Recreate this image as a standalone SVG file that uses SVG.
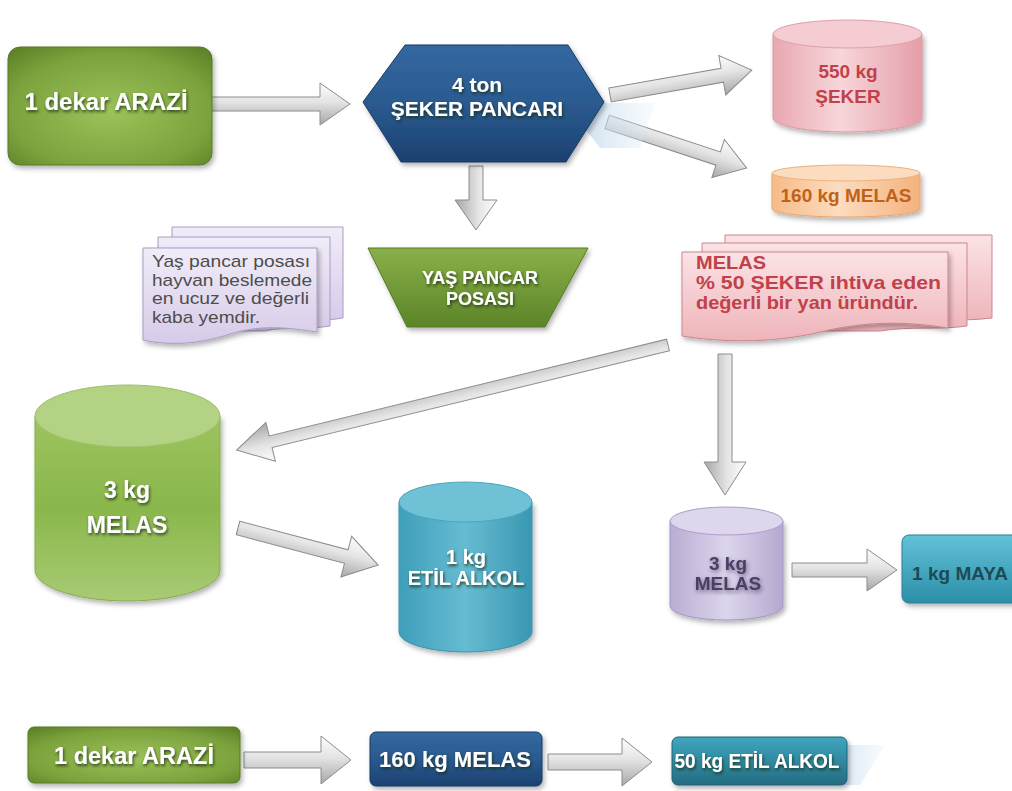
<svg xmlns="http://www.w3.org/2000/svg" width="1012" height="791" viewBox="0 0 1012 791">
<defs>
<style>
.t{font-family:"Liberation Sans",Arial,sans-serif;font-weight:bold;text-anchor:middle}
.w{fill:#ffffff;filter:url(#tsh)}
.arr{fill:url(#ag);stroke:#8c8c8c;stroke-width:1}
.note{font-family:"Liberation Sans",Arial,sans-serif;font-size:17px;fill:#4d4d4d}
.rnote{font-family:"Liberation Sans",Arial,sans-serif;font-size:19px;font-weight:bold;fill:#c1414b}
</style>
<filter id="tsh" x="-20%" y="-40%" width="140%" height="180%">
<feDropShadow dx="1" dy="2" stdDeviation="1.6" flood-color="#1a2a10" flood-opacity="0.8"/>
</filter>
<filter id="tsd" x="-20%" y="-40%" width="140%" height="180%">
<feDropShadow dx="1" dy="2" stdDeviation="2" flood-color="#2a2040" flood-opacity="0.6"/>
</filter>
<filter id="sh" x="-10%" y="-10%" width="125%" height="130%">
<feDropShadow dx="2" dy="3" stdDeviation="2.5" flood-color="#000" flood-opacity="0.3"/>
</filter>
<linearGradient id="ag" x1="0" y1="0" x2="0" y2="1">
<stop offset="0" stop-color="#fdfdfd"/><stop offset="0.45" stop-color="#e4e4e4"/><stop offset="1" stop-color="#a6a6a6"/>
</linearGradient>
<radialGradient id="gG" cx="0.5" cy="0.55" r="0.7">
<stop offset="0" stop-color="#9cc25a"/><stop offset="0.7" stop-color="#7ba23c"/><stop offset="1" stop-color="#5d8328"/>
</radialGradient>
<linearGradient id="bH" x1="0" y1="0" x2="0" y2="1">
<stop offset="0" stop-color="#3468a0"/><stop offset="0.5" stop-color="#2a5a90"/><stop offset="1" stop-color="#1c4170"/>
</linearGradient>
<linearGradient id="gT" x1="0" y1="0" x2="0" y2="1">
<stop offset="0" stop-color="#8ab04a"/><stop offset="1" stop-color="#5c8428"/>
</linearGradient>
<linearGradient id="rC" x1="0" y1="0" x2="1" y2="0">
<stop offset="0" stop-color="#e9a7b0"/><stop offset="0.45" stop-color="#f7d6da"/><stop offset="1" stop-color="#e59ea8"/>
</linearGradient>
<linearGradient id="oC" x1="0" y1="0" x2="1" y2="0">
<stop offset="0" stop-color="#f6bb88"/><stop offset="0.45" stop-color="#fddcbf"/><stop offset="1" stop-color="#f3b27c"/>
</linearGradient>
<linearGradient id="gC" x1="0" y1="0" x2="0" y2="1">
<stop offset="0" stop-color="#9dc45f"/><stop offset="0.5" stop-color="#8ab74c"/><stop offset="1" stop-color="#a8cb74"/>
</linearGradient>
<linearGradient id="cC" x1="0" y1="0" x2="1" y2="0">
<stop offset="0" stop-color="#3f9fba"/><stop offset="0.5" stop-color="#66bcd2"/><stop offset="1" stop-color="#3a97b2"/>
</linearGradient>
<linearGradient id="lC" x1="0" y1="0" x2="1" y2="0">
<stop offset="0" stop-color="#b9add3"/><stop offset="0.5" stop-color="#dcd5ec"/><stop offset="1" stop-color="#b5a8cf"/>
</linearGradient>
<linearGradient id="lN" x1="0" y1="0" x2="0" y2="1">
<stop offset="0" stop-color="#f1ecf8"/><stop offset="1" stop-color="#d6cbe8"/>
</linearGradient>
<linearGradient id="rN" x1="0" y1="0" x2="0" y2="1">
<stop offset="0" stop-color="#fbe3e5"/><stop offset="1" stop-color="#eeb4ba"/>
</linearGradient>
<linearGradient id="tB" x1="0" y1="0" x2="0" y2="1">
<stop offset="0" stop-color="#62c2d8"/><stop offset="1" stop-color="#2b8ea8"/>
</linearGradient>
<linearGradient id="tB2" x1="0" y1="0" x2="0" y2="1">
<stop offset="0" stop-color="#3fa6be"/><stop offset="1" stop-color="#236c82"/>
</linearGradient>
<linearGradient id="shB" x1="0" y1="0" x2="1" y2="0">
<stop offset="0" stop-color="#b9d3ea" stop-opacity="0.9"/><stop offset="1" stop-color="#dceaf5" stop-opacity="0.2"/>
</linearGradient>
</defs>
<rect width="1012" height="791" fill="#ffffff"/>

<g id="connectors">
<polygon class="arr" transform="translate(210,104)" points="0,-7 110,-7 110,-21 140,0 110,21 110,7 0,7"/>
<polygon class="arr" transform="translate(610,95) rotate(-9.98)" points="0,-7 114,-7 114,-20 144,0 114,20 114,7 0,7"/>
<polygon class="arr" transform="translate(607,122) rotate(18.19)" points="0,-7 117,-7 117,-20 147,0 117,20 117,7 0,7"/>
<polygon class="arr" transform="translate(476,166) rotate(90)" points="0,-7 34,-7 34,-21 64,0 34,21 34,7 0,7"/>
<polygon class="arr" transform="translate(668,345) rotate(166.31)" points="0,-6 409,-6 409,-20 444,0 409,20 409,6 0,6"/>
<polygon class="arr" transform="translate(725,354) rotate(90)" points="0,-7 108,-7 108,-21 141,0 108,21 108,7 0,7"/>
<polygon class="arr" transform="translate(238,528) rotate(14.8)" points="0,-7 112,-7 112,-21 145,0 112,21 112,7 0,7"/>
<polygon class="arr" transform="translate(792,570)" points="0,-7 75,-7 75,-21 105,0 75,21 75,7 0,7"/>
<polygon class="arr" transform="translate(244,760)" points="0,-8 77,-8 77,-24 107,0 77,24 77,8 0,8"/>
<polygon class="arr" transform="translate(548,762)" points="0,-8 74,-8 74,-24 104,0 74,24 74,8 0,8"/>
</g>

<g id="arazi">
<rect x="8" y="47" width="204" height="118" rx="12" fill="url(#gG)" stroke="#587a25" filter="url(#sh)"/>
<text class="t w" x="106" y="110" font-size="24">1 dekar ARAZİ</text>
</g>

<g id="pancar">
<polygon points="565,103 655,103 640,148 600,148" fill="url(#shB)"/>
<polygon points="363,102 405,45 568,45 604,102 566,162 401,162" fill="url(#bH)" stroke="#173a63" filter="url(#sh)"/>
<text class="t w" x="477" y="92" font-size="21">4 ton</text>
<text class="t w" x="477" y="116" font-size="21">ŞEKER PANCARI</text>
</g>

<g id="seker">
<path d="M773,34 V118 A74.5,14 0 0 0 922,118 V34 Z" fill="url(#rC)" stroke="#d99aa3" filter="url(#sh)"/>
<ellipse cx="847.5" cy="34" rx="74.5" ry="14" fill="#f4ccd1" stroke="#dca2aa"/>
<text class="t" x="848" y="78" font-size="19" fill="#c1414b">550 kg</text>
<text class="t" x="848" y="103" font-size="19" fill="#c1414b">ŞEKER</text>
</g>

<g id="melas160">
<path d="M772,173 V209 A74,8 0 0 0 920,209 V173 Z" fill="url(#oC)" stroke="#e8a672" filter="url(#sh)"/>
<ellipse cx="846" cy="173" rx="74" ry="8" fill="#fcdcbf" stroke="#eeb07c"/>
<text class="t" x="846" y="202" font-size="19" fill="#c0621a">160 kg MELAS</text>
</g>

<g id="posa-note">
<path d="M172,227 H343 V318 C320,322 300,318 280,322 H172 Z" fill="url(#lN)" stroke="#a99bc6"/>
<path d="M158,237 H330 V326 C305,330 285,326 265,331 H158 Z" fill="url(#lN)" stroke="#a99bc6"/>
<path d="M143,248 H317 V332 C290,328 262,324 230,334 C200,344 170,346 143,340 Z" fill="url(#lN)" stroke="#a99bc6" filter="url(#sh)"/>
<text class="note" x="152" y="267" textLength="158" lengthAdjust="spacingAndGlyphs">Yaş pancar posası</text>
<text class="note" x="152" y="285.5" textLength="160" lengthAdjust="spacingAndGlyphs">hayvan beslemede</text>
<text class="note" x="152" y="304" textLength="157" lengthAdjust="spacingAndGlyphs">en ucuz ve değerli</text>
<text class="note" x="152" y="322.5" textLength="108" lengthAdjust="spacingAndGlyphs">kaba yemdir.</text>
</g>

<g id="posa">
<polygon points="368,248 588,248 545,327 407,327" fill="url(#gT)" stroke="#557a22" filter="url(#sh)"/>
<text class="t w" x="480" y="284" font-size="18">YAŞ PANCAR</text>
<text class="t w" x="480" y="305" font-size="18">POSASI</text>
</g>

<g id="melas-note">
<path d="M725,235 H992 V318 C960,322 930,318 900,322 H725 Z" fill="url(#rN)" stroke="#c9868e"/>
<path d="M702,243 H967 V326 C940,330 910,326 880,331 H702 Z" fill="url(#rN)" stroke="#c9868e"/>
<path d="M682,252 H948 V328 C910,322 870,320 820,332 C770,344 720,342 682,336 Z" fill="url(#rN)" stroke="#c9868e" filter="url(#sh)"/>
<text class="rnote" x="696" y="269" textLength="70" lengthAdjust="spacingAndGlyphs">MELAS</text>
<text class="rnote" x="696" y="289" textLength="245" lengthAdjust="spacingAndGlyphs">% 50 ŞEKER ihtiva eden</text>
<text class="rnote" x="696" y="309" textLength="222" lengthAdjust="spacingAndGlyphs">değerli bir yan üründür.</text>
</g>

<g id="melas3-green">
<path d="M35,416 V570 A92.5,31 0 0 0 220,570 V416 Z" fill="url(#gC)" stroke="#86ad4c" filter="url(#sh)"/>
<ellipse cx="127.5" cy="416" rx="92.5" ry="31" fill="#b3d283" stroke="#9dc268"/>
<text class="t w" x="127" y="498" font-size="23">3 kg</text>
<text class="t w" x="127" y="533" font-size="23">MELAS</text>
</g>

<g id="etil">
<path d="M399,502 V632 A66.5,20 0 0 0 532,632 V502 Z" fill="url(#cC)" stroke="#3a93ab" filter="url(#sh)"/>
<ellipse cx="465.5" cy="502" rx="66.5" ry="20" fill="#6fc2d6" stroke="#4aa5bd"/>
<text class="t w" x="466" y="564" font-size="20">1 kg</text>
<text class="t w" x="466" y="585" font-size="20">ETİL ALKOL</text>
</g>

<g id="melas3-lav">
<path d="M670,521 V606 A56.5,14 0 0 0 783,606 V521 Z" fill="url(#lC)" stroke="#a596c4" filter="url(#sh)"/>
<ellipse cx="726.5" cy="521" rx="56.5" ry="14" fill="#ddd6ec" stroke="#ab9ec8"/>
<text class="t" x="728" y="570" font-size="19" fill="#4b3e66" filter="url(#tsd)">3 kg</text>
<text class="t" x="728" y="590" font-size="19" fill="#4b3e66" filter="url(#tsd)">MELAS</text>
</g>

<g id="maya">
<rect x="902" y="535" width="125" height="68" rx="7" fill="url(#tB)" stroke="#2a7f96" filter="url(#sh)"/>
<text class="t" x="960" y="580" font-size="19" fill="#1f4a55">1 kg MAYA</text>
</g>

<g id="b-arazi">
<rect x="28" y="727" width="212" height="56" rx="6" fill="url(#gG)" stroke="#587a25" filter="url(#sh)"/>
<text class="t w" x="134" y="764" font-size="24" textLength="160" lengthAdjust="spacingAndGlyphs">1 dekar ARAZİ</text>
</g>

<g id="b-melas">
<rect x="370" y="732" width="172" height="54" rx="6" fill="url(#bH)" stroke="#173a63" filter="url(#sh)"/>
<text class="t w" x="455" y="767" font-size="22" textLength="152" lengthAdjust="spacingAndGlyphs">160 kg MELAS</text>
</g>

<g id="b-etil">
<polygon points="820,745 885,745 860,785 820,785" fill="url(#shB)"/>
<rect x="672" y="737" width="175" height="48" rx="6" fill="url(#tB2)" stroke="#1f6277" filter="url(#sh)"/>
<text class="t w" x="757" y="768" font-size="20" textLength="165" lengthAdjust="spacingAndGlyphs">50 kg ETİL ALKOL</text>
</g>
</svg>
